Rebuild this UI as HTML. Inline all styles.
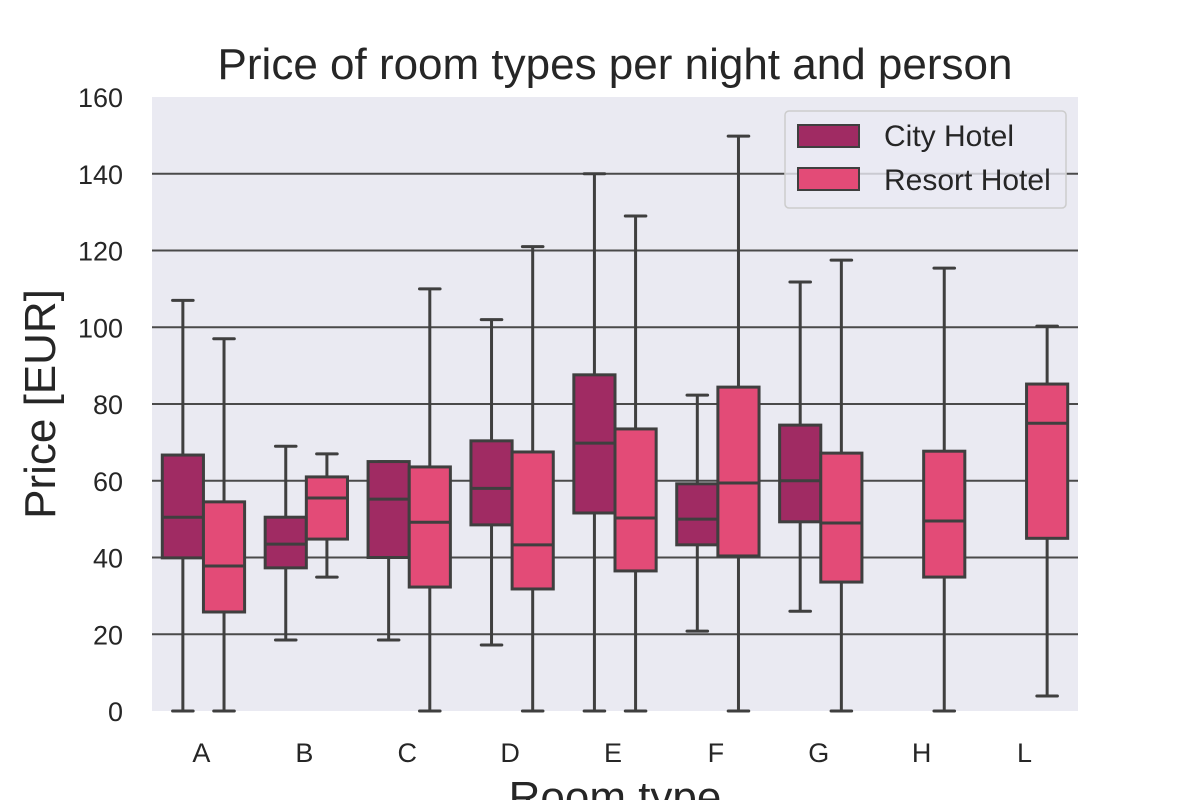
<!DOCTYPE html>
<html><head><meta charset="utf-8"><style>
body{margin:0;background:#fff;}
svg{display:block;font-family:"Liberation Sans",sans-serif;}
</style></head><body>
<svg id="chart" width="1200" height="800">
<rect x="152" y="97" width="926" height="614" fill="#eaeaf2"/>
<g id="grid"></g><g id="boxes"></g><g id="ticks"></g>
<text x="615" y="79" font-size="44" text-anchor="middle" fill="#262626">Price of room types per night and person</text>
<text transform="translate(55,404) rotate(-90)" font-size="44" text-anchor="middle" fill="#262626">Price [EUR]</text>
<text x="615" y="812" font-size="44" text-anchor="middle" fill="#262626">Room type</text>
<g>
<rect x="785" y="111" width="281" height="97" rx="4" fill="#eaeaf2" fill-opacity="0.8" stroke="#cccccc" stroke-width="1.5"/>
<g><rect x="798" y="125" width="61" height="22" fill="#a02b63" stroke="#3f3f3f" stroke-width="2"/>
<text x="884" y="146" font-size="30" fill="#262626">City Hotel</text></g>
<g><rect x="798" y="168" width="61" height="22" fill="#e34b77" stroke="#3f3f3f" stroke-width="2"/>
<text x="884" y="190" font-size="30" fill="#262626">Resort Hotel</text></g>
</g>
</svg>
<script>
const categories=["A","B","C","D","E","F","G","H","L"];
const yTicks=[0,20,40,60,80,100,120,140,160];
// [low, q1, median, q3, high]; null = missing
const cityStats=[[0,39.9,50.5,66.7,107],[18.5,37.3,43.5,50.5,69],[18.5,40,55.2,65,65],[17.2,48.5,58,70.4,102],[0,51.6,69.8,87.6,140],[20.8,43.3,50,59.2,82.3],[26,49.3,60,74.5,111.8],null,null];
const resortStats=[[0,25.8,37.8,54.5,97],[34.9,44.8,55.5,61,67],[0,32.3,49.2,63.6,110],[0,31.8,43.3,67.5,121],[0,36.5,50.3,73.5,129],[0,40.4,59.4,84.4,149.8],[0,33.6,49,67.2,117.5],[0,34.9,49.5,67.7,115.4],[3.9,45,75,85.2,100.3]];
const NS="http://www.w3.org/2000/svg";
const X0=152,X1=1078,Y0=711,Y1=97;
const bw=(X1-X0)/categories.length;
const y=v=>Y0-(v/160)*(Y0-Y1);
const xc=i=>X0+bw*(i+0.5);
function mk(tag,attrs,parent){const e=document.createElementNS(NS,tag);for(const k in attrs)e.setAttribute(k,attrs[k]);parent.appendChild(e);return e;}
const grid=document.getElementById('grid'),boxes=document.getElementById('boxes'),ticks=document.getElementById('ticks');
yTicks.forEach(t=>{
 if(t>0&&t<160){const l=mk('line',{x1:X0,x2:X1,y1:y(t),y2:y(t),stroke:'#4a4a4a','stroke-width':2},grid);
 
 }
 const tx=mk('text',{x:123,y:y(t)+10,'font-size':27,'text-anchor':'end',fill:'#262626'},ticks);tx.textContent=t;
 
 
});
categories.forEach((c,i)=>{
 const tx=mk('text',{x:xc(i)-2,y:762,'font-size':27,'text-anchor':'middle',fill:'#262626'},ticks);tx.textContent=c;
 
 
});
function drawBox(s,i,side,color,name){
 if(!s)return;
 const w=bw*0.8/2;
 const left=side<0?xc(i)-w:xc(i);
 const cx=left+w/2;
 const g=mk('g',{},boxes);
 
 
 const st={stroke:'#3f3f3f','stroke-width':3};
 mk('line',Object.assign({x1:cx,x2:cx,y1:y(s[0]),y2:y(s[1])},st),g);
 mk('line',Object.assign({x1:cx,x2:cx,y1:y(s[3]),y2:y(s[4])},st),g);
 mk('line',Object.assign({x1:cx-w/4,x2:cx+w/4,y1:y(s[0]),y2:y(s[0]),'stroke-linecap':'round'},st),g);
 mk('line',Object.assign({x1:cx-w/4,x2:cx+w/4,y1:y(s[4]),y2:y(s[4]),'stroke-linecap':'round'},st),g);
 mk('rect',Object.assign({x:left,y:y(s[3]),width:w,height:y(s[1])-y(s[3]),fill:color},st),g);
 mk('line',Object.assign({x1:left,x2:left+w,y1:y(s[2]),y2:y(s[2])},st),g);
}
categories.forEach((c,i)=>{
 drawBox(cityStats[i],i,-1,'#a02b63','box-city-'+c);
 drawBox(resortStats[i],i,1,'#e34b77','box-resort-'+c);
});
</script>
</body></html>
